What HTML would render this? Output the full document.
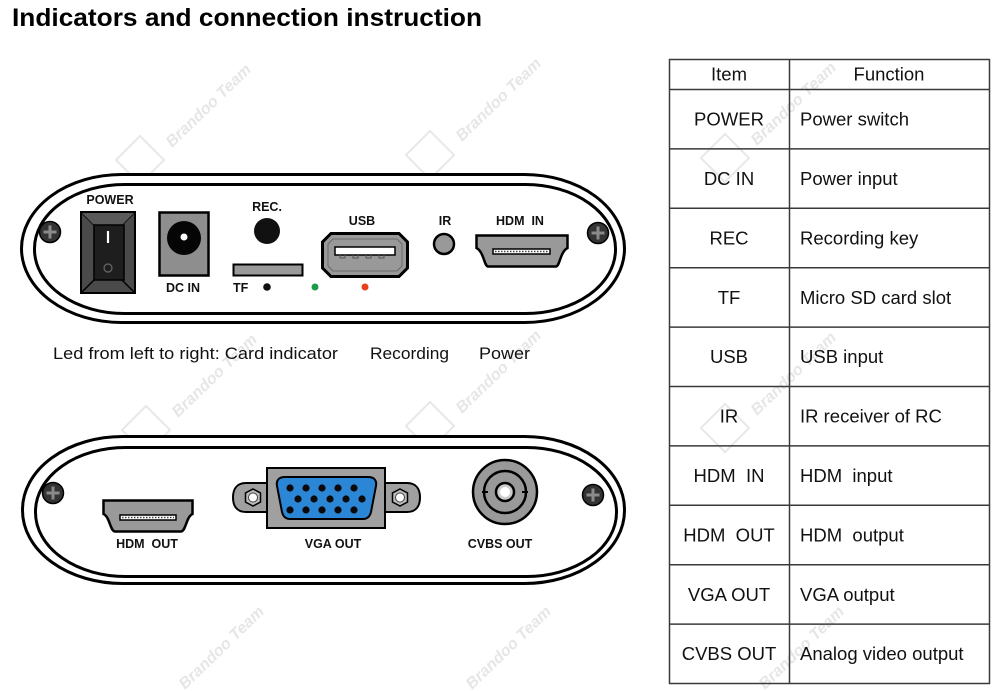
<!DOCTYPE html>
<html><head><meta charset="utf-8"><style>
html,body{margin:0;padding:0;background:#fff;}
svg{display:block;}
text{font-family:"Liberation Sans",Arial,sans-serif;}
</style></head><body>
<svg width="1000" height="691" viewBox="0 0 1000 691" xmlns="http://www.w3.org/2000/svg">
<!-- watermarks -->
<g fill="#e6e6e6" font-weight="bold" font-style="italic" font-size="16">
  <g transform="translate(172,148) rotate(-44)"><text x="0" y="0">Brandoo Team</text></g>
  <g transform="translate(462,142) rotate(-44)"><text x="0" y="0">Brandoo Team</text></g>
  <g transform="translate(757,146) rotate(-44)"><text x="0" y="0">Brandoo Team</text></g>
  <g transform="translate(178,418) rotate(-44)"><text x="0" y="0">Brandoo Team</text></g>
  <g transform="translate(462,414) rotate(-44)"><text x="0" y="0">Brandoo Team</text></g>
  <g transform="translate(757,416) rotate(-44)"><text x="0" y="0">Brandoo Team</text></g>
  <g transform="translate(185,690) rotate(-44)"><text x="0" y="0">Brandoo Team</text></g>
  <g transform="translate(472,690) rotate(-44)"><text x="0" y="0">Brandoo Team</text></g>
  <g transform="translate(765,690) rotate(-44)"><text x="0" y="0">Brandoo Team</text></g>
</g>
<g fill="none" stroke="#e8e8e8" stroke-width="2">
  <rect x="-17" y="-17" width="34" height="34" transform="translate(140,160) rotate(45)"/>
  <rect x="-17" y="-17" width="34" height="34" transform="translate(430,155) rotate(45)"/>
  <rect x="-17" y="-17" width="34" height="34" transform="translate(725,158) rotate(45)"/>
  <rect x="-17" y="-17" width="34" height="34" transform="translate(146,430) rotate(45)"/>
  <rect x="-17" y="-17" width="34" height="34" transform="translate(430,426) rotate(45)"/>
  <rect x="-17" y="-17" width="34" height="34" transform="translate(725,428) rotate(45)"/>
</g>

<!-- title -->
<text x="12" y="26" font-size="25" font-weight="bold" fill="#000" textLength="470" lengthAdjust="spacingAndGlyphs">Indicators and connection instruction</text>

<!-- TOP PANEL -->
<rect x="21.5" y="174.5" width="603" height="148" rx="100" ry="74" fill="#fff" stroke="#000" stroke-width="3"/>
<rect x="34.5" y="184.5" width="581" height="129" rx="90" ry="64" fill="#fff" stroke="#000" stroke-width="3"/>

<!-- screws top -->
<g>
  <circle cx="50" cy="232" r="10.5" fill="#333" stroke="#000" stroke-width="1.5"/>
  <path d="M43.5 232H56.5M50 225.5V238.5" stroke="#8a8a8a" stroke-width="3"/>
  <circle cx="598" cy="233" r="10.5" fill="#333" stroke="#000" stroke-width="1.5"/>
  <path d="M591.5 233H604.5M598 226.5V239.5" stroke="#8a8a8a" stroke-width="3"/>
</g>

<!-- POWER switch -->
<text x="110" y="204" font-size="12.5" font-weight="bold" text-anchor="middle" fill="#111">POWER</text>
<rect x="81" y="212" width="54" height="81" fill="#4a4a4a" stroke="#000" stroke-width="2"/>
<path d="M81 212L94 225M135 212L122 225M81 293L94 280M135 293L122 280" stroke="#000" stroke-width="1.5"/>
<polygon points="82,213 134,213 122,225 94,225" fill="#5a5a5a"/>
<rect x="94" y="225" width="30" height="55" fill="#1e1e1e" stroke="#000" stroke-width="1.5"/>
<line x1="108" y1="231" x2="108" y2="243" stroke="#fff" stroke-width="2.2"/>
<circle cx="108" cy="268" r="4" fill="none" stroke="#6a6a6a" stroke-width="1.2"/>

<!-- DC IN -->
<rect x="159.5" y="212.5" width="49" height="63" fill="#8e8e8e" stroke="#000" stroke-width="2.5"/>
<circle cx="184" cy="238" r="17" fill="#050505"/>
<circle cx="184" cy="237" r="3.5" fill="#fff"/>
<text x="183" y="292" font-size="12.5" font-weight="bold" text-anchor="middle" fill="#111">DC IN</text>

<!-- REC -->
<text x="267" y="211" font-size="12.5" font-weight="bold" text-anchor="middle" fill="#111">REC.</text>
<circle cx="267" cy="231" r="13" fill="#111"/>

<!-- TF -->
<rect x="233.5" y="264.5" width="69" height="11" fill="#9a9a9a" stroke="#000" stroke-width="2"/>
<text x="233" y="292" font-size="12.5" font-weight="bold" fill="#111">TF</text>
<circle cx="267" cy="287" r="3.8" fill="#111"/>
<circle cx="315" cy="287" r="3.5" fill="#1a9a4a"/>
<circle cx="365" cy="287" r="3.5" fill="#e8401c"/>

<!-- USB -->
<text x="362" y="225" font-size="12.5" font-weight="bold" text-anchor="middle" fill="#111">USB</text>
<polygon points="331,233.5 399,233.5 407.5,242 407.5,268 399,276.5 331,276.5 322.5,268 322.5,242" fill="#999" stroke="#000" stroke-width="3"/>
<polygon points="333,239 397,239 402,244 402,266 397,271 333,271 328,266 328,244" fill="none" stroke="#6a6a6a" stroke-width="1"/>
<rect x="335" y="247" width="60" height="8" fill="#fff" stroke="#000" stroke-width="1.5"/>
<path d="M340 255v3h5v-3M353 255v3h5v-3M366 255v3h5v-3M379 255v3h5v-3" fill="none" stroke="#555" stroke-width="1"/>

<!-- IR -->
<text x="445" y="225" font-size="12.5" font-weight="bold" text-anchor="middle" fill="#111">IR</text>
<circle cx="444" cy="244" r="10" fill="#999" stroke="#000" stroke-width="2.5"/>

<!-- HDMI IN -->
<text x="520" y="225" font-size="12.5" font-weight="bold" text-anchor="middle" fill="#111" xml:space="preserve">HDM  IN</text>
<path d="M476.5,235.5 H567.5 V248 C560,252 560,266 556,266.5 H488 C484,266 484,252 476.5,248 Z" fill="#999" stroke="#000" stroke-width="2.5"/>
<rect x="493" y="249" width="57" height="5" fill="#fff" stroke="#000" stroke-width="1.5"/>
<line x1="495" y1="251.5" x2="548" y2="251.5" stroke="#444" stroke-width="1.5" stroke-dasharray="1.5 1.5"/>

<!-- Led text -->
<text x="53" y="359" font-size="17" fill="#111" textLength="285" lengthAdjust="spacingAndGlyphs">Led from left to right: Card indicator</text>
<text x="370" y="359" font-size="17" fill="#111" textLength="79" lengthAdjust="spacingAndGlyphs">Recording</text>
<text x="479" y="359" font-size="17" fill="#111" textLength="51" lengthAdjust="spacingAndGlyphs">Power</text>

<!-- BOTTOM PANEL -->
<rect x="22.5" y="436.5" width="602" height="147" rx="100" ry="73" fill="#fff" stroke="#000" stroke-width="3"/>
<rect x="35.5" y="447.5" width="581" height="129" rx="90" ry="64" fill="#fff" stroke="#000" stroke-width="3"/>

<circle cx="53" cy="493" r="10.5" fill="#333" stroke="#000" stroke-width="1.5"/>
<path d="M46.5 493H59.5M53 486.5V499.5" stroke="#8a8a8a" stroke-width="3"/>
<circle cx="593" cy="495" r="10.5" fill="#333" stroke="#000" stroke-width="1.5"/>
<path d="M586.5 495H599.5M593 488.5V501.5" stroke="#8a8a8a" stroke-width="3"/>

<!-- HDMI OUT -->
<path d="M103.5,500.5 H192.5 V514 C186,517 186,531 181,531.5 H115 C110,531 110,517 103.5,514 Z" fill="#999" stroke="#000" stroke-width="2.5"/>
<rect x="120" y="515" width="56" height="5" fill="#fff" stroke="#000" stroke-width="1.5"/>
<line x1="122" y1="517.5" x2="174" y2="517.5" stroke="#444" stroke-width="1.5" stroke-dasharray="1.5 1.5"/>
<text x="147" y="548" font-size="12.5" font-weight="bold" text-anchor="middle" fill="#111" xml:space="preserve">HDM  OUT</text>

<!-- VGA -->
<path d="M267,483 H246 C236,483 233,490 233,497.5 C233,505 236,512 246,512 H267 Z" fill="#a0a0a0" stroke="#000" stroke-width="2"/>
<path d="M385,483 H407 C417,483 420,490 420,497.5 C420,505 417,512 407,512 H385 Z" fill="#a0a0a0" stroke="#000" stroke-width="2"/>
<rect x="267" y="468" width="118" height="60" fill="#a0a0a0" stroke="#000" stroke-width="2"/>
<polygon points="253,489 260.5,493 260.5,502 253,506 245.5,502 245.5,493" fill="#bbb" stroke="#000" stroke-width="1.5"/>
<circle cx="253" cy="497.5" r="4.5" fill="#fff" stroke="#444" stroke-width="1"/>
<polygon points="400,489 407.5,493 407.5,502 400,506 392.5,502 392.5,493" fill="#bbb" stroke="#000" stroke-width="1.5"/>
<circle cx="400" cy="497.5" r="4.5" fill="#fff" stroke="#444" stroke-width="1"/>
<path d="M285,477 H368 C374,477 377,480 376,486 L371,512 C370,516 368,519 363,519 H290 C285,519 283,516 282,512 L277,486 C276,480 279,477 285,477 Z" fill="#2b86d6" stroke="#000" stroke-width="2"/>
<g fill="#0a0a0a">
  <circle cx="290" cy="488" r="3.6"/><circle cx="306" cy="488" r="3.6"/><circle cx="322" cy="488" r="3.6"/><circle cx="338" cy="488" r="3.6"/><circle cx="354" cy="488" r="3.6"/>
  <circle cx="298" cy="499" r="3.6"/><circle cx="314" cy="499" r="3.6"/><circle cx="330" cy="499" r="3.6"/><circle cx="346" cy="499" r="3.6"/><circle cx="362" cy="499" r="3.6"/>
  <circle cx="290" cy="510" r="3.6"/><circle cx="306" cy="510" r="3.6"/><circle cx="322" cy="510" r="3.6"/><circle cx="338" cy="510" r="3.6"/><circle cx="354" cy="510" r="3.6"/>
</g>
<text x="333" y="548" font-size="12.5" font-weight="bold" text-anchor="middle" fill="#111">VGA OUT</text>

<!-- CVBS -->
<circle cx="505" cy="492" r="32" fill="#999" stroke="#000" stroke-width="2.5"/>
<circle cx="505" cy="492" r="21" fill="#999" stroke="#000" stroke-width="2.5"/>
<circle cx="505" cy="492" r="9" fill="#ccc" stroke="#000" stroke-width="2.5"/>
<circle cx="505" cy="492" r="5" fill="#fff"/>
<path d="M482 492H488M522 492H528" stroke="#000" stroke-width="2"/>
<text x="500" y="548" font-size="12.5" font-weight="bold" text-anchor="middle" fill="#111">CVBS OUT</text>

<!-- TABLE -->
<g stroke="#3a3a3a" stroke-width="1.5" fill="none">
  <line x1="669.5" y1="59" x2="669.5" y2="684"/>
  <line x1="789.5" y1="59" x2="789.5" y2="684"/>
  <line x1="989.5" y1="59" x2="989.5" y2="684"/>
  <line x1="669" y1="59.5" x2="990" y2="59.5"/>
  <line x1="669" y1="89.5" x2="990" y2="89.5"/>
  <line x1="669" y1="148.9" x2="990" y2="148.9"/>
  <line x1="669" y1="208.3" x2="990" y2="208.3"/>
  <line x1="669" y1="267.7" x2="990" y2="267.7"/>
  <line x1="669" y1="327.1" x2="990" y2="327.1"/>
  <line x1="669" y1="386.5" x2="990" y2="386.5"/>
  <line x1="669" y1="445.9" x2="990" y2="445.9"/>
  <line x1="669" y1="505.3" x2="990" y2="505.3"/>
  <line x1="669" y1="564.7" x2="990" y2="564.7"/>
  <line x1="669" y1="624.1" x2="990" y2="624.1"/>
  <line x1="669" y1="683.5" x2="990" y2="683.5"/>
</g>
<g font-size="18.5" fill="#111">
  <text x="729" y="80.5" text-anchor="middle">Item</text>
  <text x="889" y="80.5" text-anchor="middle">Function</text>

  <text x="729" y="125.5" text-anchor="middle">POWER</text>
  <text x="800" y="125.5">Power switch</text>

  <text x="729" y="185" text-anchor="middle">DC IN</text>
  <text x="800" y="185">Power input</text>

  <text x="729" y="244.4" text-anchor="middle">REC</text>
  <text x="800" y="244.4">Recording key</text>

  <text x="729" y="303.8" text-anchor="middle">TF</text>
  <text x="800" y="303.8">Micro SD card slot</text>

  <text x="729" y="363.2" text-anchor="middle">USB</text>
  <text x="800" y="363.2">USB input</text>

  <text x="729" y="422.6" text-anchor="middle">IR</text>
  <text x="800" y="422.6">IR receiver of RC</text>

  <text x="729" y="482" text-anchor="middle" xml:space="preserve">HDM  IN</text>
  <text x="800" y="482" xml:space="preserve">HDM  input</text>

  <text x="729" y="541.4" text-anchor="middle" xml:space="preserve">HDM  OUT</text>
  <text x="800" y="541.4" xml:space="preserve">HDM  output</text>

  <text x="729" y="600.8" text-anchor="middle">VGA OUT</text>
  <text x="800" y="600.8">VGA output</text>

  <text x="729" y="660.2" text-anchor="middle">CVBS OUT</text>
  <text x="800" y="660.2">Analog video output</text>
</g>
</svg>
</body></html>
